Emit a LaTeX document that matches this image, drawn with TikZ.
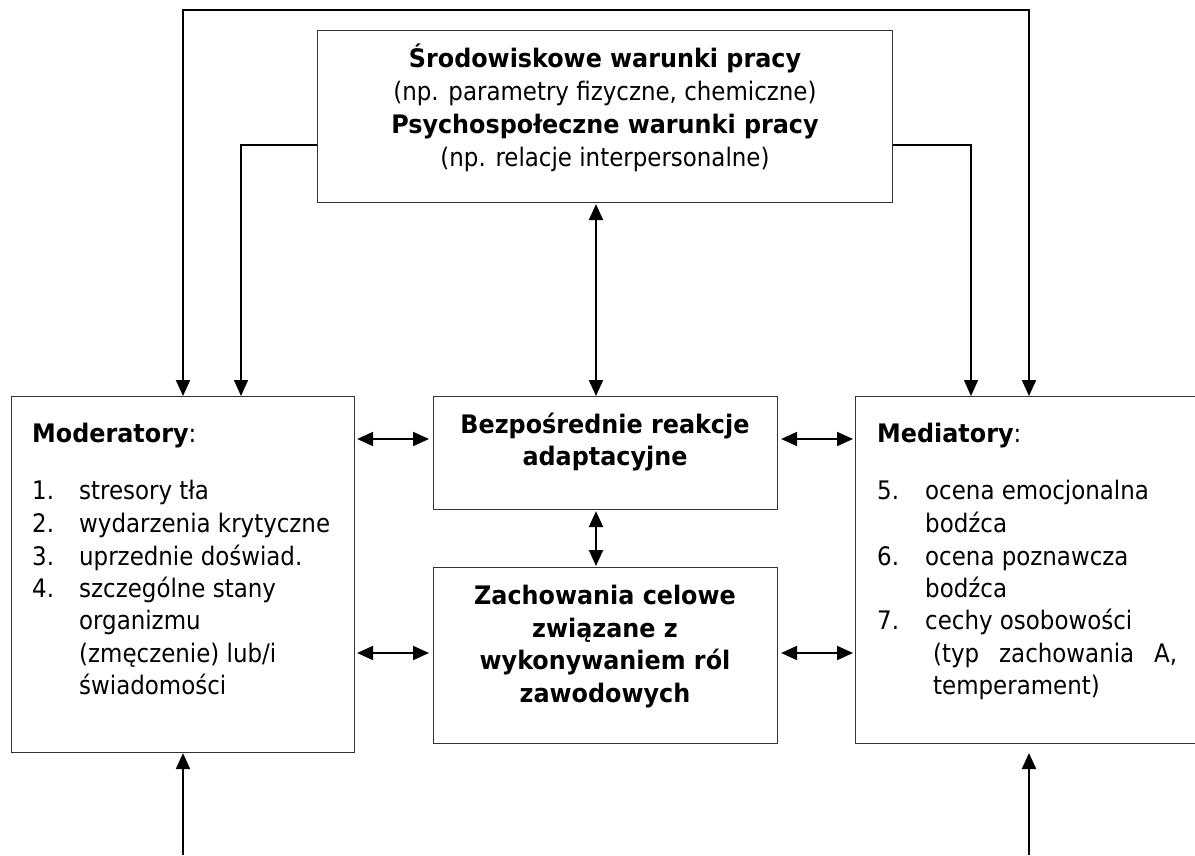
\documentclass[tikz,border=0pt]{standalone}
\usepackage{fontspec}
\setmainfont{DejaVu Sans Condensed}[BoldFeatures={FakeStretch=1.04}]
\usetikzlibrary{arrows.meta,calc}
\begin{document}
\begin{tikzpicture}[x=1pt,y=-1pt,
  box/.style={draw=black!80, line width=1.1pt, inner sep=0pt, anchor=north west},
  txt/.style={inner sep=0pt, font=\fontsize{25.5}{32}\selectfont},
  ctr/.style={txt, anchor=base},
  lft/.style={txt, anchor=base west},
  link/.style={line width=2pt},
  thinlink/.style={line width=1.3pt},
  onehead/.style={-{Triangle[length=16pt 0 0,width=14pt 0 0]}},
  twoheads/.style={{Triangle[length=16pt 0 0,width=14pt 0 0]}-{Triangle[length=16pt 0 0,width=14pt 0 0]}}]
\useasboundingbox (0,0) rectangle (1195,855);

% boxes
\node[box, minimum width=575pt, minimum height=172pt] (top)  at (317,30)   {};
\node[box, minimum width=343.5pt, minimum height=356pt] (mod) at (10.5,396) {};
\node[box, minimum width=344pt, minimum height=113pt] (bez)  at (433,396)  {};
\node[box, minimum width=344pt, minimum height=176pt] (zach) at (433,567)  {};
\node[box, minimum width=343pt, minimum height=347pt] (med)  at (855,396)  {};

% working conditions
\node[ctr] (t1) at (605,67)  {\textbf{Środowiskowe warunki pracy}};
\node[ctr] (t2) at (605,100) {(np. parametry fizyczne, chemiczne)};
\node[ctr] (t3) at (605,133) {\textbf{Psychospołeczne warunki pracy}};
\node[ctr] (t4) at (605,166) {(np. relacje interpersonalne)};

% immediate reactions
\node[ctr] (b1) at (605,433) {\textbf{Bezpośrednie reakcje}};
\node[ctr] (b2) at (605,465) {\textbf{adaptacyjne}};

% goal-directed behaviour
\node[ctr] (z1) at (605,604) {\textbf{Zachowania celowe}};
\node[ctr] (z2) at (605,637) {\textbf{związane z}};
\node[ctr] (z3) at (605,669) {\textbf{wykonywaniem ról}};
\node[ctr] (z4) at (605,702) {\textbf{zawodowych}};

% moderators
\node[lft] (mh) at (32,442) {\textbf{Moderatory}:};
\node[lft] (mn1) at (32,499) {1.};
\node[lft] (mn2) at (32,532) {2.};
\node[lft] (mn3) at (32,565) {3.};
\node[lft] (mn4) at (32,597) {4.};
\node[lft] (m1) at (79,499) {stresory tła};
\node[lft] (m2) at (79,532) {wydarzenia krytyczne};
\node[lft] (m3) at (79,565) {uprzednie doświad.};
\node[lft] (m4) at (79,597) {szczególne stany};
\node[lft] (m5) at (79,629) {organizmu};
\node[lft] (m6) at (79,662) {(zmęczenie) lub/i};
\node[lft] (m7) at (79,694) {świadomości};

% mediators
\node[lft] (dh) at (877,442) {\textbf{Mediatory}:};
\node[lft] (dn5) at (877,499) {5.};
\node[lft] (dn6) at (877,565) {6.};
\node[lft] (dn7) at (877,629) {7.};
\node[lft] (d1) at (925,499) {ocena emocjonalna};
\node[lft] (d2) at (925,532) {bodźca};
\node[lft] (d3) at (925,565) {ocena poznawcza};
\node[lft] (d4) at (925,597) {bodźca};
\node[lft] (d5) at (925,629) {cechy osobowości};
\node[lft] (d6) at (933,662) {\hbox to 244pt{(typ\hfill zachowania\hfill A,}};
\node[lft] (d7) at (933,694) {temperament)};

% connectors
\coordinate (tl) at (183,10);
\coordinate (tr) at (1029,10);
\coordinate (lj) at (241,145);
\coordinate (rj) at (971,145);
\coordinate (vx) at (596,0);
\coordinate (bl) at (183,855);
\coordinate (br) at (1029,855);
\coordinate (brt) at (1029,753);

\draw[link,twoheads] (mod.north -| tl) -- (tl) -- (tr) -- (med.north -| tr);
\draw[thinlink,onehead] (top.west |- lj) -| (mod.north -| lj);
\draw[thinlink,onehead] (top.east |- rj) -| (med.north -| rj);

\draw[link,twoheads,shorten <=1pt] (top.south -| vx) -- (bez.north -| vx);
\draw[link,twoheads,shorten <=1pt,shorten >=1pt] (bez.south -| vx) -- (zach.north -| vx);

\draw[link,twoheads] ($(mod.north east)+(2,43)$)  -- ($(bez.north west)+(-4,43)$);
\draw[link,twoheads] ($(mod.north east)+(2,257)$) -- ($(zach.north west)+(-4,86)$);
\draw[link,twoheads] ($(bez.north east)+(3,43)$)  -- ($(med.north west)+(-2,43)$);
\draw[link,twoheads] ($(zach.north east)+(3,86)$) -- ($(med.north west)+(-2,257)$);

\draw[link,onehead] (bl) -- (mod.south -| bl);
\draw[link,onehead] (br) -- (brt);
\end{tikzpicture}
\end{document}
